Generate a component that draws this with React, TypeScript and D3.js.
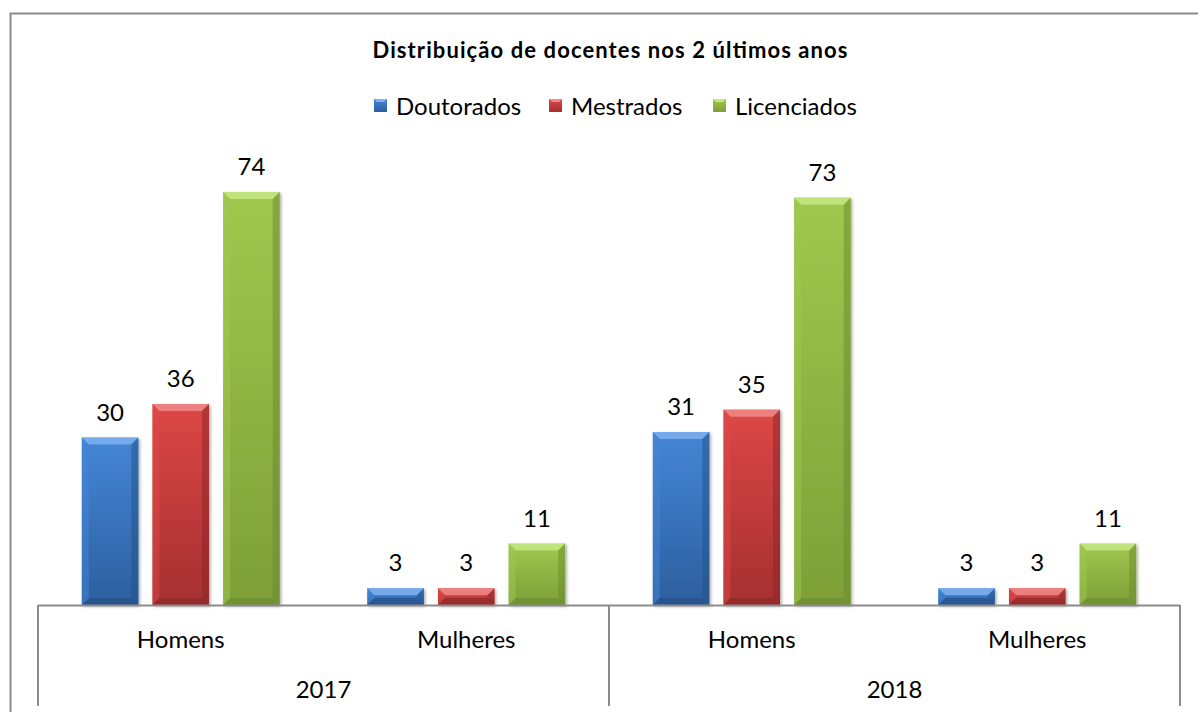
import React from "react";
import * as d3 from "d3";

const years = ["2017", "2018"];
const genders = ["Homens", "Mulheres"];
const seriesNames = ["Doutorados", "Mestrados", "Licenciados"];
const doutorados = [30, 3, 31, 3];
const mestrados = [36, 3, 35, 3];
const licenciados = [74, 11, 73, 11];
const seriesValues = [doutorados, mestrados, licenciados];

const palette = [
  { top: "#4486d6", bot: "#2c5f9f", light: "#7fb2ee", dark: "#244f86" },
  { top: "#dd4747", bot: "#a52f2f", light: "#f08a8a", dark: "#8a2626" },
  { top: "#a0c84e", bot: "#7d9f38", light: "#c6e785", dark: "#6a8a2e" },
];

const FONT = "Lato, 'Open Sans', 'Liberation Sans', sans-serif";

export default function App() {
  const W = 1198, H = 712;
  const left = 38, right = 1180, base = 605;
  const cats = years.flatMap((y) => genders.map((g) => `${y}-${g}`));
  const x0 = d3.scaleBand().domain(cats).range([left, right]).paddingInner(0).paddingOuter(0);
  const inner = d3.scaleBand().domain(seriesNames).range([0, x0.bandwidth()]).paddingInner(0.2).paddingOuter(0.62);
  const y = d3.scaleLinear().domain([0, 80]).range([base, 158.6]);
  const yearBand = d3.scaleBand().domain(years).range([left, right]);
  const bv = 7;

  return (
    <svg width={W} height={H} style={{ position: "absolute", left: 0, top: 0 }}>
      <defs>
        {palette.map((p, i) => (
          <linearGradient key={i} id={`g${i}`} x1="0" y1="0" x2="0" y2="1">
            <stop offset="0" stopColor={p.top} />
            <stop offset="1" stopColor={p.bot} />
          </linearGradient>
        ))}
        <filter id="sh" x="-20%" y="-20%" width="140%" height="140%">
          <feDropShadow dx="1.5" dy="1.5" stdDeviation="1.5" floodColor="#000" floodOpacity="0.35" />
        </filter>
      </defs>
      <rect x={0} y={0} width={W} height={H} fill="#fff" />
      {/* outer border */}
      <path d={`M10.5,${H} V13.5 H${W}`} fill="none" stroke="#8c8c8c" strokeWidth={2} />
      {/* title */}
      <text x={610} y={58} textAnchor="middle" fontFamily={FONT} fontWeight="bold" fontSize={22} fill="#000"
        textLength={475} lengthAdjust="spacing">
        Distribuição de docentes nos 2 últimos anos
      </text>
      {/* legend */}
      {[
        { x: 374, tx: 396 },
        { x: 549, tx: 571 },
        { x: 713, tx: 735 },
      ].map((l, i) => (
        <g key={i}>
          <rect x={l.x} y={99} width={13} height={13} fill={`url(#g${i})`} />
          <path d={`M${l.x},99 h13 l-3,3 h-7 z`} fill={palette[i].light} />
          <text x={l.tx} y={115} fontFamily={FONT} fontSize={24} fill="#000">{seriesNames[i]}</text>
        </g>
      ))}
      {/* bars */}
      {cats.map((c, ci) =>
        seriesNames.map((s, si) => {
          const v = seriesValues[si][ci];
          const bx = (x0(c) as number) + (inner(s) as number);
          const bw = inner.bandwidth();
          const by = y(v);
          const bh = base - by;
          const b = Math.min(bv, bh / 2);
          const p = palette[si];
          return (
            <g key={`${c}-${s}`}>
              <rect x={bx} y={by} width={bw} height={bh} fill={`url(#g${si})`} filter="url(#sh)" />
              <path d={`M${bx},${by} h${bw} l${-b},${b} h${-(bw - 2 * b)} z`} fill={p.light} opacity={0.85} />
              <path d={`M${bx},${by} l${b},${b} v${bh - 2 * b} l${-b},${b} z`} fill={p.top} opacity={0.5} />
              <path d={`M${bx + bw},${by} l${-b},${b} v${bh - 2 * b} l${b},${b} z`} fill={p.dark} opacity={0.5} />
              <path d={`M${bx},${base} l${b},${-b} h${bw - 2 * b} l${b},${b} z`} fill={p.dark} opacity={0.6} />
              <text x={bx + bw / 2} y={by - 17} textAnchor="middle" fontFamily={FONT} fontSize={24} fill="#000">
                {v}
              </text>
            </g>
          );
        })
      )}
      {/* axis */}
      <line x1={left} x2={right} y1={base + 0.5} y2={base + 0.5} stroke="#8c8c8c" strokeWidth={2} />
      {[left, (yearBand("2018") as number), right].map((xv, i) => (
        <line key={i} x1={xv} x2={xv} y1={base} y2={706} stroke="#8c8c8c" strokeWidth={2} />
      ))}
      {cats.map((c, ci) => (
        <text key={c} x={(x0(c) as number) + x0.bandwidth() / 2} y={648} textAnchor="middle" fontFamily={FONT} fontSize={24} fill="#000">
          {genders[ci % 2]}
        </text>
      ))}
      {years.map((yr) => (
        <text key={yr} x={(yearBand(yr) as number) + yearBand.bandwidth() / 2} y={698} textAnchor="middle" fontFamily={FONT} fontSize={24} fill="#000">
          {yr}
        </text>
      ))}
    </svg>
  );
}
